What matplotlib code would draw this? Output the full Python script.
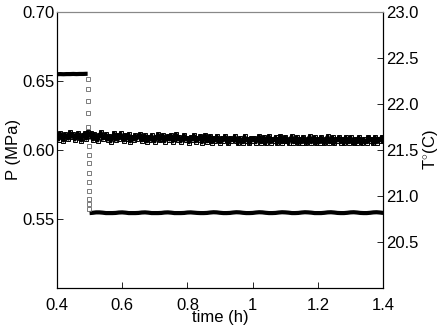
import numpy as np
import matplotlib
matplotlib.use("Agg")
import matplotlib.pyplot as plt

plt.rcParams['font.family'] = ['Liberation Sans', 'DejaVu Sans']
plt.rcParams['mathtext.fontset'] = 'custom'
plt.rcParams['mathtext.rm'] = 'Liberation Sans'

# pressure (MPa), upper plateau before the step
p_hi_t = [0.40, 0.41, 0.42, 0.43, 0.44, 0.45, 0.46, 0.47, 0.48, 0.49, 0.494]
p_hi = [0.6548, 0.6549, 0.6548, 0.6549, 0.6549, 0.6550, 0.6549, 0.6550, 0.6550, 0.6551, 0.6551]

# samples during the pressure drop
p_drop = [0.6515, 0.6439, 0.6356, 0.6265, 0.6168, 0.6091, 0.6028, 0.5965,
          0.5903, 0.5835, 0.5770, 0.5705, 0.5647, 0.5608, 0.5570]
p_drop_t = np.linspace(0.4950, 0.4995, len(p_drop))

# lower plateau after the step (0.50 .. 1.40 h, every 0.01 h)
p_lo = [0.5543, 0.5545, 0.5548, 0.5548, 0.5546, 0.5543, 0.5543, 0.5543, 0.5544, 0.5547,
        0.5548, 0.5546, 0.5543, 0.5543, 0.5543, 0.5544, 0.5547, 0.5548, 0.5546, 0.5543,
        0.5543, 0.5543, 0.5544, 0.5547, 0.5548, 0.5546, 0.5543, 0.5543, 0.5543, 0.5544,
        0.5547, 0.5548, 0.5546, 0.5544, 0.5543, 0.5543, 0.5544, 0.5547, 0.5549, 0.5548,
        0.5545, 0.5543, 0.5543, 0.5544, 0.5547, 0.5549, 0.5548, 0.5545, 0.5543, 0.5543,
        0.5544, 0.5547, 0.5549, 0.5548, 0.5545, 0.5543, 0.5543, 0.5544, 0.5547, 0.5549,
        0.5548, 0.5546, 0.5543, 0.5543, 0.5544, 0.5547, 0.5549, 0.5548, 0.5546, 0.5543,
        0.5543, 0.5543, 0.5545, 0.5548, 0.5549, 0.5547, 0.5544, 0.5543, 0.5543, 0.5545,
        0.5548, 0.5549, 0.5547, 0.5544, 0.5543, 0.5543, 0.5545, 0.5548, 0.5549, 0.5547,
        0.5544]
p_lo_t = np.linspace(0.50, 1.40, len(p_lo))

# temperature (C), every 0.005 h from 0.40 to 1.40
temp = [21.65, 21.61, 21.68, 21.64, 21.60, 21.67, 21.65, 21.62, 21.69, 21.64,
        21.67, 21.61, 21.65, 21.68, 21.63, 21.60, 21.66, 21.68, 21.62, 21.69,
        21.65, 21.68, 21.61, 21.67, 21.63, 21.60, 21.66, 21.69, 21.62, 21.64,
        21.67, 21.61, 21.65, 21.59, 21.64, 21.68, 21.61, 21.66, 21.62, 21.68,
        21.64, 21.60, 21.66, 21.62, 21.67, 21.59, 21.64, 21.61, 21.66, 21.62,
        21.65, 21.67, 21.60, 21.62, 21.66, 21.59, 21.64, 21.61, 21.66, 21.62,
        21.59, 21.64, 21.67, 21.61, 21.62, 21.66, 21.59, 21.63, 21.65, 21.61,
        21.66, 21.59, 21.62, 21.67, 21.61, 21.64, 21.59, 21.63, 21.66, 21.61,
        21.63, 21.58, 21.64, 21.61, 21.66, 21.59, 21.63, 21.61, 21.65, 21.58,
        21.63, 21.66, 21.59, 21.61, 21.65, 21.58, 21.63, 21.60, 21.65, 21.61,
        21.58, 21.63, 21.60, 21.65, 21.61, 21.57, 21.63, 21.60, 21.62, 21.65,
        21.60, 21.57, 21.63, 21.61, 21.58, 21.65, 21.60, 21.62, 21.57, 21.63,
        21.60, 21.63, 21.58, 21.62, 21.65, 21.58, 21.60, 21.64, 21.57, 21.62,
        21.65, 21.58, 21.62, 21.60, 21.64, 21.57, 21.62, 21.65, 21.58, 21.60,
        21.64, 21.60, 21.57, 21.62, 21.65, 21.58, 21.60, 21.64, 21.57, 21.62,
        21.58, 21.64, 21.60, 21.57, 21.62, 21.65, 21.58, 21.61, 21.64, 21.57,
        21.62, 21.58, 21.64, 21.60, 21.57, 21.62, 21.65, 21.58, 21.60, 21.64,
        21.57, 21.62, 21.60, 21.64, 21.58, 21.62, 21.57, 21.64, 21.60, 21.58,
        21.64, 21.60, 21.57, 21.62, 21.58, 21.64, 21.60, 21.57, 21.62, 21.60,
        21.58, 21.64, 21.60, 21.62, 21.57, 21.64, 21.58, 21.62, 21.60, 21.64,
        21.60]
temp_t = np.linspace(0.40, 1.40, len(temp))

x_ticks = [0.4, 0.6, 0.8, 1.0, 1.2, 1.4]
x_labels = ['0.4', '0.6', '0.8', '1', '1.2', '1.4']
p_ticks = [0.55, 0.60, 0.65, 0.70]
t_ticks = [20.5, 21.0, 21.5, 22.0, 22.5, 23.0]

fig = plt.figure(figsize=(4.45, 3.27), dpi=100)
ax = fig.add_axes([0.128, 0.119, 0.733, 0.845])
ax2 = ax.twinx()

# pressure on the left axis
ax.plot(p_hi_t, p_hi, color='black', lw=3.0, solid_capstyle='butt')
ax.plot(p_lo_t, p_lo, color='black', lw=3.0, solid_capstyle='butt')
ax.plot(p_drop_t, p_drop, ls='none', marker='s', ms=3, mfc='none', mec='#666666', mew=0.6)

# temperature on the right axis
ax2.plot(temp_t, temp, color='black', lw=2.6, marker='s', ms=3.2, mfc='none', mec='black', mew=0.7)

ax.set_xlim(0.4, 1.4)
ax.set_ylim(0.50, 0.70)
ax2.set_ylim(20.0, 23.0)
ax.set_xticks(x_ticks)
ax.set_xticklabels(x_labels)
ax.set_yticks(p_ticks)
ax.set_yticklabels(['%.2f' % v for v in p_ticks])
ax2.set_yticks(t_ticks)
ax2.set_yticklabels(['%.1f' % v for v in t_ticks])

for a in (ax, ax2):
    a.tick_params(direction='in', length=4, width=0.6, labelsize=12, pad=2)
    for s in a.spines.values():
        s.set_linewidth(0.8)
    a.spines['top'].set_color('#888888')
ax.tick_params(axis='x', pad=7)

ax.set_xlabel('time (h)', fontsize=12)
ax.set_ylabel('P (MPa)', fontsize=12)
ax2.set_ylabel(r'T$^{\circ}$(C)', fontsize=12)
ax.xaxis.set_label_coords(0.5, -0.105)
ax.yaxis.set_label_coords(-0.133, 0.5)
ax2.yaxis.set_label_coords(1.147, 0.5)
ax.xaxis.label.set_va('center')
ax.yaxis.label.set_va('center')
ax2.yaxis.label.set_va('center')

fig.savefig('out.png', dpi=100)
